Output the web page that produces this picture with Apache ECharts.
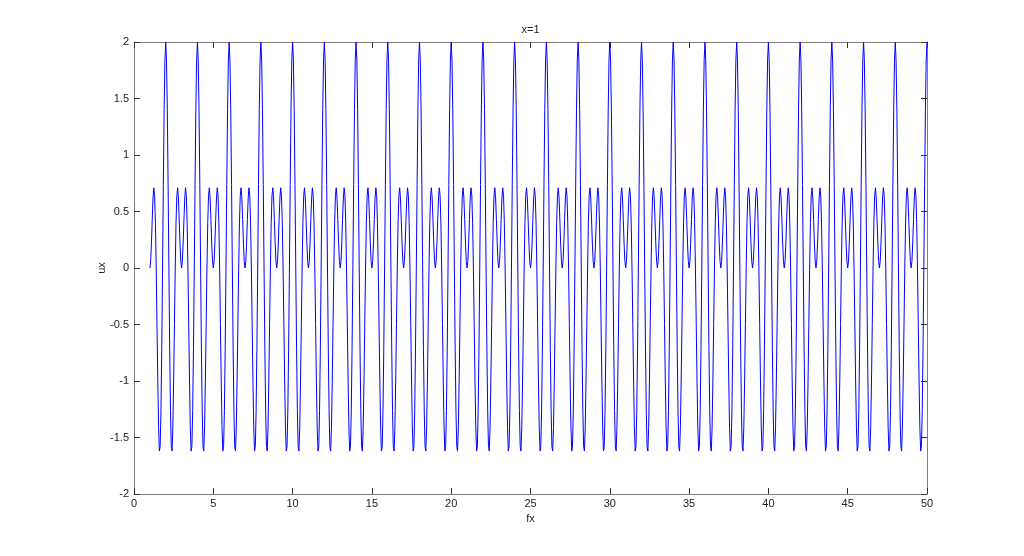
<!DOCTYPE html>
<html>
<head>
<meta charset="utf-8">
<title>x=1</title>
<script src="https://cdn.jsdelivr.net/npm/echarts@6/dist/echarts.min.js"></script>
<style>
  html, body { margin: 0; padding: 0; background: #fff; }
  #chart { width: 1024px; height: 556px; }
</style>
</head>
<body>
<div id="chart"></div>
<script>
const fxStart = 1;
const fxStep = 0.05;
const ux = [
  0,.06,.22,.43,.62,.71,.64,.4,0,-.5,-1,-1.41,-1.62,-1.58,-1.26,-.71,0,.74,1.4,1.84,2,1.84,1.4,.74,0,-.71,-1.26,-1.58,-1.62,-1.41,-1,-.5,0,.4,.64,.71,.62,.43,.22,.06,
  0,.06,.22,.43,.62,.71,.64,.4,0,-.5,-1,-1.41,-1.62,-1.58,-1.26,-.71,0,.74,1.4,1.84,2,1.84,1.4,.74,0,-.71,-1.26,-1.58,-1.62,-1.41,-1,-.5,0,.4,.64,.71,.62,.43,.22,.06,
  0,.06,.22,.43,.62,.71,.64,.4,0,-.5,-1,-1.41,-1.62,-1.58,-1.26,-.71,0,.74,1.4,1.84,2,1.84,1.4,.74,0,-.71,-1.26,-1.58,-1.62,-1.41,-1,-.5,0,.4,.64,.71,.62,.43,.22,.06,
  0,.06,.22,.43,.62,.71,.64,.4,0,-.5,-1,-1.41,-1.62,-1.58,-1.26,-.71,0,.74,1.4,1.84,2,1.84,1.4,.74,0,-.71,-1.26,-1.58,-1.62,-1.41,-1,-.5,0,.4,.64,.71,.62,.43,.22,.06,
  0,.06,.22,.43,.62,.71,.64,.4,0,-.5,-1,-1.41,-1.62,-1.58,-1.26,-.71,0,.74,1.4,1.84,2,1.84,1.4,.74,0,-.71,-1.26,-1.58,-1.62,-1.41,-1,-.5,0,.4,.64,.71,.62,.43,.22,.06,
  0,.06,.22,.43,.62,.71,.64,.4,0,-.5,-1,-1.41,-1.62,-1.58,-1.26,-.71,0,.74,1.4,1.84,2,1.84,1.4,.74,0,-.71,-1.26,-1.58,-1.62,-1.41,-1,-.5,0,.4,.64,.71,.62,.43,.22,.06,
  0,.06,.22,.43,.62,.71,.64,.4,0,-.5,-1,-1.41,-1.62,-1.58,-1.26,-.71,0,.74,1.4,1.84,2,1.84,1.4,.74,0,-.71,-1.26,-1.58,-1.62,-1.41,-1,-.5,0,.4,.64,.71,.62,.43,.22,.06,
  0,.06,.22,.43,.62,.71,.64,.4,0,-.5,-1,-1.41,-1.62,-1.58,-1.26,-.71,0,.74,1.4,1.84,2,1.84,1.4,.74,0,-.71,-1.26,-1.58,-1.62,-1.41,-1,-.5,0,.4,.64,.71,.62,.43,.22,.06,
  0,.06,.22,.43,.62,.71,.64,.4,0,-.5,-1,-1.41,-1.62,-1.58,-1.26,-.71,0,.74,1.4,1.84,2,1.84,1.4,.74,0,-.71,-1.26,-1.58,-1.62,-1.41,-1,-.5,0,.4,.64,.71,.62,.43,.22,.06,
  0,.06,.22,.43,.62,.71,.64,.4,0,-.5,-1,-1.41,-1.62,-1.58,-1.26,-.71,0,.74,1.4,1.84,2,1.84,1.4,.74,0,-.71,-1.26,-1.58,-1.62,-1.41,-1,-.5,0,.4,.64,.71,.62,.43,.22,.06,
  0,.06,.22,.43,.62,.71,.64,.4,0,-.5,-1,-1.41,-1.62,-1.58,-1.26,-.71,0,.74,1.4,1.84,2,1.84,1.4,.74,0,-.71,-1.26,-1.58,-1.62,-1.41,-1,-.5,0,.4,.64,.71,.62,.43,.22,.06,
  0,.06,.22,.43,.62,.71,.64,.4,0,-.5,-1,-1.41,-1.62,-1.58,-1.26,-.71,0,.74,1.4,1.84,2,1.84,1.4,.74,0,-.71,-1.26,-1.58,-1.62,-1.41,-1,-.5,0,.4,.64,.71,.62,.43,.22,.06,
  0,.06,.22,.43,.62,.71,.64,.4,0,-.5,-1,-1.41,-1.62,-1.58,-1.26,-.71,0,.74,1.4,1.84,2,1.84,1.4,.74,0,-.71,-1.26,-1.58,-1.62,-1.41,-1,-.5,0,.4,.64,.71,.62,.43,.22,.06,
  0,.06,.22,.43,.62,.71,.64,.4,0,-.5,-1,-1.41,-1.62,-1.58,-1.26,-.71,0,.74,1.4,1.84,2,1.84,1.4,.74,0,-.71,-1.26,-1.58,-1.62,-1.41,-1,-.5,0,.4,.64,.71,.62,.43,.22,.06,
  0,.06,.22,.43,.62,.71,.64,.4,0,-.5,-1,-1.41,-1.62,-1.58,-1.26,-.71,0,.74,1.4,1.84,2,1.84,1.4,.74,0,-.71,-1.26,-1.58,-1.62,-1.41,-1,-.5,0,.4,.64,.71,.62,.43,.22,.06,
  0,.06,.22,.43,.62,.71,.64,.4,0,-.5,-1,-1.41,-1.62,-1.58,-1.26,-.71,0,.74,1.4,1.84,2,1.84,1.4,.74,0,-.71,-1.26,-1.58,-1.62,-1.41,-1,-.5,0,.4,.64,.71,.62,.43,.22,.06,
  0,.06,.22,.43,.62,.71,.64,.4,0,-.5,-1,-1.41,-1.62,-1.58,-1.26,-.71,0,.74,1.4,1.84,2,1.84,1.4,.74,0,-.71,-1.26,-1.58,-1.62,-1.41,-1,-.5,0,.4,.64,.71,.62,.43,.22,.06,
  0,.06,.22,.43,.62,.71,.64,.4,0,-.5,-1,-1.41,-1.62,-1.58,-1.26,-.71,0,.74,1.4,1.84,2,1.84,1.4,.74,0,-.71,-1.26,-1.58,-1.62,-1.41,-1,-.5,0,.4,.64,.71,.62,.43,.22,.06,
  0,.06,.22,.43,.62,.71,.64,.4,0,-.5,-1,-1.41,-1.62,-1.58,-1.26,-.71,0,.74,1.4,1.84,2,1.84,1.4,.74,0,-.71,-1.26,-1.58,-1.62,-1.41,-1,-.5,0,.4,.64,.71,.62,.43,.22,.06,
  0,.06,.22,.43,.62,.71,.64,.4,0,-.5,-1,-1.41,-1.62,-1.58,-1.26,-.71,0,.74,1.4,1.84,2,1.84,1.4,.74,0,-.71,-1.26,-1.58,-1.62,-1.41,-1,-.5,0,.4,.64,.71,.62,.43,.22,.06,
  0,.06,.22,.43,.62,.71,.64,.4,0,-.5,-1,-1.41,-1.62,-1.58,-1.26,-.71,0,.74,1.4,1.84,2,1.84,1.4,.74,0,-.71,-1.26,-1.58,-1.62,-1.41,-1,-.5,0,.4,.64,.71,.62,.43,.22,.06,
  0,.06,.22,.43,.62,.71,.64,.4,0,-.5,-1,-1.41,-1.62,-1.58,-1.26,-.71,0,.74,1.4,1.84,2,1.84,1.4,.74,0,-.71,-1.26,-1.58,-1.62,-1.41,-1,-.5,0,.4,.64,.71,.62,.43,.22,.06,
  0,.06,.22,.43,.62,.71,.64,.4,0,-.5,-1,-1.41,-1.62,-1.58,-1.26,-.71,0,.74,1.4,1.84,2,1.84,1.4,.74,0,-.71,-1.26,-1.58,-1.62,-1.41,-1,-.5,0,.4,.64,.71,.62,.43,.22,.06,
  0,.06,.22,.43,.62,.71,.64,.4,0,-.5,-1,-1.41,-1.62,-1.58,-1.26,-.71,0,.74,1.4,1.84,2,1.84,1.4,.74,0,-.71,-1.26,-1.58,-1.62,-1.41,-1,-.5,0,.4,.64,.71,.62,.43,.22,.06,
  0,.06,.22,.43,.62,.71,.64,.4,0,-.5,-1,-1.41,-1.62,-1.58,-1.26,-.71,0,.74,1.4,1.84,2
];
const xTicks = [0, 5, 10, 15, 20, 25, 30, 35, 40, 45, 50];
const yTicks = [-2, -1.5, -1, -0.5, 0, 0.5, 1, 1.5, 2];

const points = ux.map((v, i) => [+(fxStart + i * fxStep).toFixed(2), v]);

const font = "'Liberation Sans', Arial, sans-serif";
const lineColor = "#7f7f7f";
const tickColor = "#333";

function xAx(pos, showLabel, name) {
  return {
    type: "value",
    position: pos,
    min: xTicks[0],
    max: xTicks[xTicks.length - 1],
    interval: xTicks[1] - xTicks[0],
    name: name,
    nameLocation: "middle",
    nameGap: pos === "top" ? 7 : 19,
    nameMoveOverlap: false,
    nameTextStyle: { color: "#222", fontSize: 11, fontFamily: font },
    axisLine: { show: true, onZero: false, lineStyle: { color: lineColor, width: 1 } },
    axisTick: { show: true, inside: true, length: 6, lineStyle: { color: tickColor } },
    axisLabel: { show: showLabel, color: "#222", fontSize: 11, fontFamily: font, margin: 4 },
    splitLine: { show: false }
  };
}
function yAx(pos, showLabel, name) {
  return {
    type: "value",
    position: pos,
    min: yTicks[0],
    max: yTicks[yTicks.length - 1],
    interval: yTicks[1] - yTicks[0],
    name: name,
    nameLocation: "middle",
    nameGap: 27,
    nameMoveOverlap: false,
    nameTextStyle: { color: "#222", fontSize: 11, fontFamily: font },
    axisLine: { show: true, onZero: false, lineStyle: { color: lineColor, width: 1 } },
    axisTick: { show: true, inside: true, length: 6, lineStyle: { color: tickColor } },
    axisLabel: { show: showLabel, color: "#222", fontSize: 11, fontFamily: font, margin: 5 },
    splitLine: { show: false }
  };
}

const myChart = echarts.init(document.getElementById("chart"), null, { renderer: "canvas" });
myChart.setOption({
  animation: false,
  backgroundColor: "#fff",
  grid: { left: 134, right: 97, top: 42, bottom: 62, containLabel: false, outerBoundsMode: "none" },
  xAxis: [xAx("bottom", true, "fx"), xAx("top", false, "x=1")],
  yAxis: [yAx("left", true, "ux"), yAx("right", false, "")],
  series: [
    {
      type: "line",
      data: points,
      xAxisIndex: 0,
      yAxisIndex: 0,
      showSymbol: false,
      symbol: "none",
      sampling: null,
      silent: true,
      lineStyle: { color: "#0000ff", width: 1 }
    }
  ]
});
</script>
</body>
</html>
